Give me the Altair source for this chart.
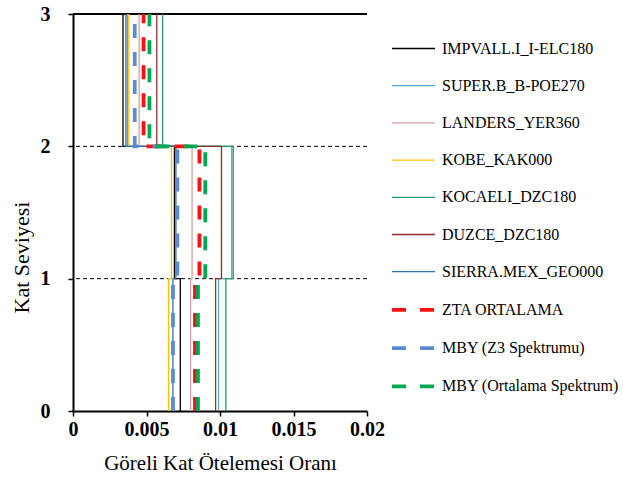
import altair as alt
import pandas as pd

# Ground-motion records and average profiles
series = [
    "IMPVALL.I_I-ELC180",
    "SUPER.B_B-POE270",
    "LANDERS_YER360",
    "KOBE_KAK000",
    "KOCAELI_DZC180",
    "DUZCE_DZC180",
    "SIERRA.MEX_GEO000",
    "ZTA ORTALAMA",
    "MBY (Z3 Spektrumu)",
    "MBY (Ortalama Spektrum)",
]

# Inter-storey drift ratio per storey (1st, 2nd, 3rd)
story_1 = [0.0073, 0.0099, 0.0080, 0.0065, 0.0104, 0.0097, 0.0068, 0.0083, 0.0068, 0.0085]
story_2 = [0.0069, 0.0108, 0.0081, 0.0067, 0.0109, 0.0101, 0.0070, 0.0086, 0.0071, 0.0090]
story_3 = [0.0034, 0.0037, 0.0045, 0.0038, 0.0061, 0.0057, 0.0036, 0.0048, 0.0042, 0.0052]

colors = [
    "#000000", "#4BACC6", "#D4A09B", "#FFC000", "#1E9E6E",
    "#8E2F2F", "#2E75B6", "#FF1010", "#5B8BD0", "#00A850",
]
is_average = [False] * 7 + [True] * 3

levels = [0, 1, 2, 3]
grid_levels = [1, 2]
top_level = [3]
x_ticks = [0, 0.005, 0.01, 0.015, 0.02]

# Step profile: each storey's drift drawn between its floor and ceiling
rows = []
for k, (name, d1, d2, d3, avg) in enumerate(zip(series, story_1, story_2, story_3, is_average)):
    pts = [(d1, 0), (d1, 1), (d2, 1), (d2, 2), (d3, 2), (d3, 3)]
    for i, (d, lv) in enumerate(pts):
        rows.append({"series": name, "drift": d, "level": lv, "idx": i, "avg": avg, "k": k})
df = pd.DataFrame(rows)

serif = "Liberation Serif"

legend = alt.Legend(
    title=None,
    orient="none",
    legendX=317,
    legendY=12,
    symbolType="stroke",
    symbolSize=1850,
    labelFont=serif,
    labelFontSize=16,
    labelColor="#000000",
    labelOffset=5,
    rowPadding=6.2,
    labelLimit=300,
)

x_enc = alt.X(
    "drift:Q",
    scale=alt.Scale(domain=[0, 0.02], nice=False, zero=False),
    axis=alt.Axis(
        values=x_ticks,
        format="~g",
        title="Göreli Kat Ötelemesi Oranı",
        grid=False,
        labelFont=serif,
        labelFontWeight="bold",
        labelFontSize=20,
        labelColor="#000000",
        labelPadding=3,
        labelFlush=False,
        labelOverlap=False,
        domainColor="#000000",
        domainWidth=2,
        tickColor="#000000",
        tickWidth=1.5,
        tickSize=5,
        titleFont=serif,
        titleFontWeight="normal",
        titleFontSize=21,
        titleColor="#000000",
        titlePadding=13,
    ),
)
y_enc = alt.Y(
    "level:Q",
    scale=alt.Scale(domain=[0, 3], nice=False, zero=False),
    axis=alt.Axis(
        values=levels,
        format="d",
        title="Kat Seviyesi",
        grid=False,
        labelFont=serif,
        labelFontWeight="bold",
        labelFontSize=20,
        labelColor="#000000",
        labelPadding=18,
        domainColor="#000000",
        domainWidth=2,
        tickColor="#000000",
        tickWidth=1.5,
        tickSize=5,
        titleFont=serif,
        titleFontWeight="normal",
        titleFontSize=22,
        titleColor="#000000",
        titleAngle=270,
        titleAlign="center",
        titleBaseline="middle",
        titleX=-52,
        titleY=243,
    ),
)

color_enc = alt.Color(
    "series:N", scale=alt.Scale(type="ordinal", domain=series, range=colors), legend=legend
)
dash_enc = alt.StrokeDash(
    "series:N",
    scale=alt.Scale(type="ordinal", domain=series, range=[[1, 0]] * 7 + [[14, 14]] * 3),
    legend=legend,
)
width_enc = alt.StrokeWidth(
    "series:N",
    scale=alt.Scale(type="ordinal", domain=series, range=[1.3] * 7 + [3.8] * 3),
    legend=legend,
)

base = alt.Chart(df).encode(
    x=x_enc, y=y_enc, color=color_enc, strokeDash=dash_enc, strokeWidth=width_enc,
    order=alt.Order("idx:Q"),
)

thin = base.transform_filter("!datum.avg").mark_line(strokeCap="butt")
thick = base.transform_filter("datum.avg").mark_line(strokeCap="butt")

grid = alt.Chart(pd.DataFrame({"level": grid_levels})).mark_rule(
    color="#000000", strokeWidth=1, strokeDash=[4, 3]
).encode(y="level:Q")

top = alt.Chart(pd.DataFrame({"level": top_level})).mark_rule(
    color="#000000", strokeWidth=2.2
).encode(y="level:Q")

chart = (
    alt.layer(grid, top, thin, thick)
    .properties(
        width=294,
        height=397,
        autosize=alt.AutoSizeParams(type="none"),
        padding={"left": 73, "top": 14, "right": 256, "bottom": 78},
        background="#ffffff",
    )
    .configure_view(strokeWidth=0)
)

chart.save("out.html", embed_options={"renderer": "svg", "actions": False})
